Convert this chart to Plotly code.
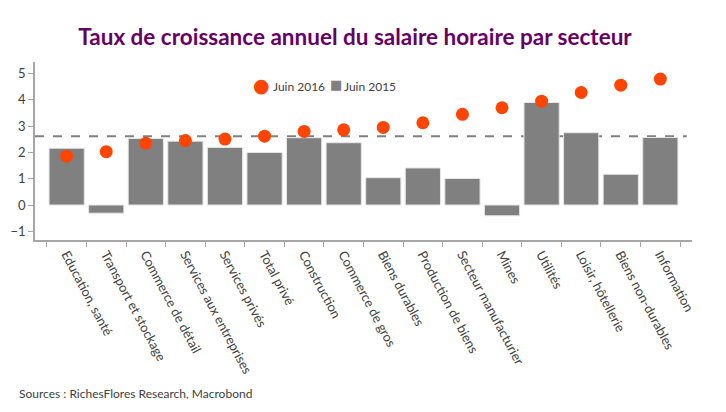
import plotly.graph_objects as go

categories = ["Education, santé", "Transport et stockage", "Commerce de détail",
              "Services aux entreprises", "Services privés", "Total privé",
              "Construction", "Commerce de gros", "Biens durables",
              "Production de biens", "Secteur manufacturier", "Mines",
              "Utilités", "Loisir, hôtellerie", "Biens non-durables", "Information"]
juin_2015 = [2.16, -0.31, 2.53, 2.43, 2.19, 2.00, 2.56, 2.37, 1.04, 1.41, 1.01,
             -0.41, 3.90, 2.75, 1.17, 2.57]
juin_2016 = [1.86, 2.03, 2.35, 2.45, 2.51, 2.62, 2.80, 2.86, 2.95, 3.13, 3.45,
             3.70, 3.95, 4.28, 4.56, 4.79]
reference_total = 2.62
y_ticks = [-1, 0, 1, 2, 3, 4, 5]
series_names = ["Juin 2016", "Juin 2015"]
dot_color = "#FF4500"
bar_color = "#808080"

font_family = "Lato, 'Open Sans', sans-serif"

fig = go.Figure()
fig.add_trace(go.Bar(
    x=categories, y=juin_2015, name=series_names[1],
    marker=dict(color=bar_color, line=dict(color="#E6E6E6", width=1)),
))
fig.add_trace(go.Scatter(
    x=categories, y=juin_2016, mode="markers", name=series_names[0],
    marker=dict(color=dot_color, size=13, line=dict(width=0)),
))
fig.add_shape(type="line", xref="paper", yref="y", x0=0, x1=0.992,
              y0=reference_total, y1=reference_total,
              line=dict(color="#808080", width=2, dash="dash"), layer="below")

fig.update_layout(
    width=726, height=412,
    margin=dict(l=35, r=34, t=62, b=172),
    paper_bgcolor="white", plot_bgcolor="white",
    font=dict(family=font_family, color="#404040", size=13),
    title=dict(text="<b>Taux de croissance annuel du salaire horaire par secteur</b>",
               x=0.489, xanchor="center", y=0.91, yanchor="middle",
               font=dict(size=22.5, color="#660066", family=font_family)),
    bargap=0.11,
    showlegend=False,
    xaxis=dict(type="category", range=[-0.8, 15.8], showgrid=False, zeroline=False,
               showline=True, linecolor="#A6A6A6", linewidth=1.5, automargin=False,
               ticks="outside", tickson="boundaries", ticklen=5, tickcolor="#A6A6A6",
               tickangle=62, tickfont=dict(size=13, color="#404040")),
    yaxis=dict(range=[-1.33, 5.44], tickvals=y_ticks, showgrid=False, zeroline=False,
               showline=True, linecolor="#A6A6A6", linewidth=1.5, automargin=False,
               ticks="outside", ticklen=5, tickcolor="#A6A6A6",
               tickfont=dict(size=13, color="#404040")),
)
# custom compact legend (symbol + label), placed inside the plot area
legend_items = [
    ("●", dot_color, 19, 0.3455, series_names[0], 0.3590),
    ("■", bar_color, 13, 0.4580, series_names[1], 0.4680),
]
for sym, col, size, xs, label, xl in legend_items:
    fig.add_annotation(text=sym, xref="paper", yref="paper", x=xs, xanchor="center",
                       y=0.872, yanchor="middle", showarrow=False,
                       font=dict(size=size, color=col, family="DejaVu Sans"))
    fig.add_annotation(text=label, xref="paper", yref="paper", x=xl, xanchor="left",
                       y=0.865, yanchor="middle", showarrow=False,
                       font=dict(size=12, color="#404040"))
fig.add_annotation(text="Sources : RichesFlores Research, Macrobond", xref="paper", yref="paper",
                   x=-0.027, xanchor="left", y=-0.864, yanchor="middle", showarrow=False,
                   font=dict(size=12, color="#404040"))
fig.write_html("out.html", config={"displayModeBar": False},
               post_script="document.body.style.margin='0';document.body.style.overflow='hidden';")
